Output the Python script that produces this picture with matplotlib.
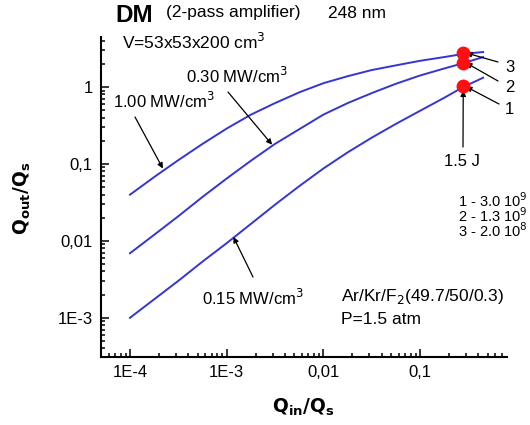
import matplotlib
matplotlib.use("Agg")
import matplotlib.pyplot as plt
from matplotlib.ticker import FixedLocator, FixedFormatter, LogLocator, NullFormatter

plt.rcParams['font.family'] = ['Liberation Sans', 'DejaVu Sans']

# input energy Q_in/Q_s
q_in = [1e-4, 1.78e-4, 3.16e-4, 5.62e-4, 1e-3, 1.78e-3, 3.16e-3, 5.62e-3,
        0.01, 0.0178, 0.0316, 0.0562, 0.1, 0.178, 0.28, 0.45]
# output Q_out/Q_s for each pump power
q_out_100 = [0.0398, 0.0676, 0.112, 0.182, 0.288, 0.437, 0.617, 0.851,
             1.12, 1.38, 1.66, 1.91, 2.19, 2.45, 2.69, 2.85]
q_out_030 = [0.0069, 0.0120, 0.0209, 0.0372, 0.0646, 0.110, 0.182, 0.282,
             0.437, 0.617, 0.832, 1.10, 1.41, 1.74, 2.04, 2.45]
q_out_015 = [0.001, 0.00174, 0.00302, 0.00537, 0.00933, 0.0166, 0.0295, 0.0513,
             0.0871, 0.141, 0.219, 0.331, 0.490, 0.724, 1.0, 1.32]

# 1.5 J operating points
dot_x = [0.28, 0.28, 0.28]
dot_y = [1.02, 2.08, 2.8]
dot_labels = ["1", "2", "3"]

x_ticks = [1e-4, 1e-3, 1e-2, 1e-1]
x_ticklabels = ["1E-4", "1E-3", "0,01", "0,1"]
y_ticks = [1e-3, 1e-2, 1e-1, 1]
y_ticklabels = ["1E-3", "0,01", "0,1", "1"]

W, H = 530, 425
fig = plt.figure(figsize=(W / 100, H / 100), dpi=100)
ax = fig.add_axes([101 / W, 1 - 357 / H, (507 - 101) / W, (357 - 37) / H])


def fp(x, y):
    # top-left pixel -> figure fraction
    return (x / W, 1 - y / H)


blue = '#3535d5'
for ys in (q_out_100, q_out_030, q_out_015):
    ax.plot(q_in, ys, color=blue, lw=1.4)
ax.plot(dot_x, dot_y, 'o', color='#ff1010', ms=9, zorder=5)

ax.set_xscale('log')
ax.set_yscale('log')
ax.set_xlim(10 ** -4.3, 10 ** -0.1)
ax.set_ylim(10 ** -3.51, 10 ** 0.65)

ax.xaxis.set_major_locator(FixedLocator(x_ticks))
ax.xaxis.set_major_formatter(FixedFormatter(x_ticklabels))
ax.yaxis.set_major_locator(FixedLocator(y_ticks))
ax.yaxis.set_major_formatter(FixedFormatter(y_ticklabels))
for axis in (ax.xaxis, ax.yaxis):
    axis.set_minor_locator(LogLocator(base=10, subs=range(2, 10), numticks=20))
    axis.set_minor_formatter(NullFormatter())

ax.spines['top'].set_visible(False)
ax.spines['right'].set_visible(False)
for s in ('left', 'bottom'):
    ax.spines[s].set_linewidth(1.5)
ax.tick_params(which='both', direction='in', top=False, right=False, width=1.1)
ax.tick_params(which='major', length=6, labelsize=12, pad=6)
ax.tick_params(which='minor', length=3)

fig.text(*fp(22, 198), r'$\mathbf{Q_{out}/Q_s}$', rotation=90, ha='center', va='center', fontsize=13.5)
fig.text(*fp(303, 407), r'$\mathbf{Q_{in}/Q_s}$', ha='center', va='center', fontsize=13.5)

# header
fig.text(*fp(115, 15), 'DM', fontsize=17.5, fontweight='bold', va='center')
fig.text(*fp(166, 13), '(2-pass amplifier)', fontsize=12.5, va='center')
fig.text(*fp(328, 13), '248 nm', fontsize=12.5, va='center')
fig.text(*fp(122, 42), r'V=53x53x200 cm$^3$', fontsize=12.5, va='center')

arr = dict(arrowstyle='-|>', color='black', lw=0.9, mutation_scale=8, shrinkA=0, shrinkB=0)

# pump power labels
fig.text(*fp(186, 76), r'0.30 MW/cm$^3$', fontsize=12, va='center')
ax.annotate('', xy=(10 ** -2.53, 10 ** -0.75), xytext=fp(228, 92),
            textcoords='figure fraction', arrowprops=arr)
fig.text(*fp(113, 101), r'1.00 MW/cm$^3$', fontsize=12, va='center')
ax.annotate('', xy=(10 ** -3.66, 10 ** -1.06), xytext=fp(135, 117),
            textcoords='figure fraction', arrowprops=arr)
fig.text(*fp(202, 298), r'0.15 MW/cm$^3$', fontsize=12, va='center')
ax.annotate('', xy=(10 ** -2.93, 10 ** -1.95), xytext=fp(253, 277),
            textcoords='figure fraction', arrowprops=arr)

# 1.5 J marker
ax.annotate('', xy=(dot_x[0], dot_y[0] * 0.88), xytext=fp(463, 147),
            textcoords='figure fraction', arrowprops=arr)
fig.text(*fp(462, 161), '1.5 J', fontsize=12, ha='center', va='center')

# numbered dot labels
lab_pos = [(505, 110), (505, 87), (505, 67)]
start_pos = [(499, 104), (498, 81), (498, 62)]
for i in range(3):
    ax.annotate('', xy=(dot_x[i] * 1.07, dot_y[i] * 0.99), xytext=fp(*start_pos[i]),
                textcoords='figure fraction', arrowprops=arr)
    fig.text(*fp(*lab_pos[i]), dot_labels[i], fontsize=12, va='center')

fig.text(*fp(458, 201), r'1 - 3.0 10$^9$', fontsize=10.5, va='center')
fig.text(*fp(458, 216), r'2 - 1.3 10$^9$', fontsize=10.5, va='center')
fig.text(*fp(458, 231), r'3 - 2.0 10$^8$', fontsize=10.5, va='center')

fig.text(*fp(341, 297), r'Ar/Kr/F$_2$(49.7/50/0.3)', fontsize=12.5, va='center')
fig.text(*fp(341, 319), 'P=1.5 atm', fontsize=12.5, va='center')

fig.savefig('out.png', dpi=100)
